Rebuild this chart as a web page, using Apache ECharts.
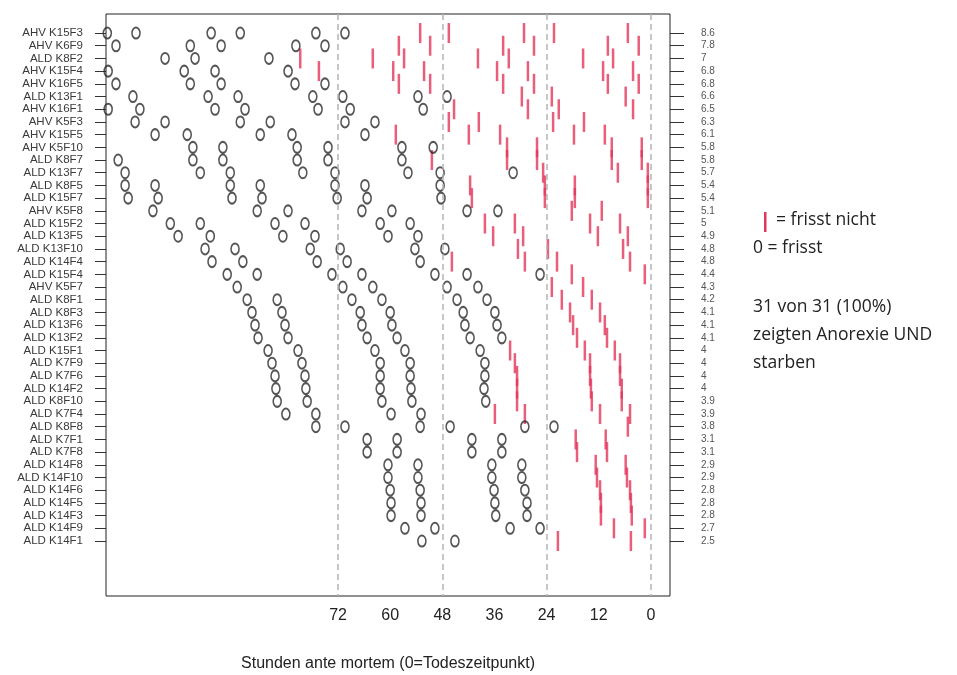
<!DOCTYPE html>
<html>
<head>
<meta charset="utf-8">
<script src="https://cdn.jsdelivr.net/npm/echarts@6/dist/echarts.min.js"></script>
<style>
html,body{margin:0;padding:0;background:#fff}
#chart{width:957px;height:675px}
</style>
</head>
<body>
<div id="chart"></div>
<script>
// Tiere (oben nach unten)
var animals = ['AHV K15F3','AHV K6F9','ALD K8F2','AHV K15F4','AHV K16F5','ALD K13F1','AHV K16F1','AHV K5F3',
  'AHV K15F5','AHV K5F10','ALD K8F7','ALD K13F7','ALD K8F5','ALD K15F7','AHV K5F8','ALD K15F2','ALD K13F5',
  'ALD K13F10','ALD K14F4','ALD K15F4','AHV K5F7','ALD K8F1','ALD K8F3','ALD K13F6','ALD K13F2','ALD K15F1',
  'ALD K7F9','ALD K7F6','ALD K14F2','ALD K8F10','ALD K7F4','ALD K8F8','ALD K7F1','ALD K7F8','ALD K14F8',
  'ALD K14F10','ALD K14F6','ALD K14F5','ALD K14F3','ALD K14F9','ALD K14F1'];
var ratios = ['8.6','7.8','7','6.8','6.8','6.6','6.5','6.3','6.1','5.8','5.8','5.7','5.4','5.4','5.1','5','4.9',
  '4.8','4.8','4.4','4.3','4.2','4.1','4.1','4.1','4','4','4','4','3.9','3.9','3.8','3.1','3.1','2.9','2.9',
  '2.8','2.8','2.8','2.7','2.5'];

// Stunden ante mortem: frisst (0)
var feeds = [
  [125.1,118.5,101.2,94.5,77.1,70.4],
  [123.1,106.0,98.9,81.7,75.0],
  [111.8,104.9,87.9],
  [124.9,107.4,100.3,83.5],
  [123.1,106.0,98.9,81.9,75.0],
  [119.2,101.9,95.0,77.8,70.9,53.6,46.9],
  [124.9,117.6,100.3,93.4,76.6,69.2,52.4],
  [118.7,111.8,94.5,87.6,70.4,63.5],
  [114.1,106.7,89.9,82.6,65.8],
  [105.4,98.5,81.4,74.3,57.3,50.1],
  [122.6,105.4,98.5,81.4,74.3,57.3],
  [121.0,103.7,96.8,80.1,72.7,55.9,48.5,31.7],
  [121.0,114.1,96.8,89.9,72.7,65.8,48.5],
  [120.3,113.4,96.4,89.5,72.2,65.3,48.3],
  [114.6,90.6,83.5,66.5,59.6,42.3,35.2],
  [110.6,103.7,86.5,79.6,62.3,55.4],
  [108.8,101.4,84.7,77.3,60.5,53.6],
  [102.6,95.7,78.4,71.5,54.3,47.4],
  [101.0,93.9,76.8,69.9,53.1],
  [97.5,90.6,73.4,66.5,49.7,42.3,25.5],
  [95.2,70.9,64.0,46.9,39.8],
  [92.9,86.0,68.8,61.9,44.6,37.7],
  [91.8,84.9,66.9,60.0,43.2,35.9],
  [91.1,84.2,66.5,59.6,42.8,35.4],
  [90.4,83.5,65.3,58.4,41.6,34.3],
  [88.1,81.2,63.5,56.6,39.3],
  [87.2,80.3,62.3,55.4,38.2],
  [86.5,79.6,62.3,55.4,38.2],
  [86.3,79.4,62.3,55.2,38.4],
  [86.0,79.1,61.9,55.0,38.0],
  [84.0,77.1,59.8,52.9],
  [77.1,70.4,53.1,46.2,29.0,22.3],
  [65.3,58.4,41.2,34.3],
  [65.3,58.4,41.2,34.3],
  [60.5,53.6,36.6,29.7],
  [60.5,53.6,36.6,29.7],
  [60.0,53.1,36.1,29.0],
  [59.8,52.9,35.9,28.5],
  [59.8,52.9,35.7,28.5],
  [56.6,49.7,32.4,25.5],
  [52.7,45.1]
];

// Stunden ante mortem: frisst nicht (|)
var noFeed = [
  [53.1,46.5,29.2,22.3,5.3],
  [58.0,50.8,34.0,26.9,9.9,2.8],
  [80.7,64.0,56.8,39.8,32.7,15.6,8.7],
  [76.4,59.3,52.2,35.4,28.3,11.0,4.1],
  [58.0,50.8,34.0,26.9,9.9,2.8],
  [29.7,22.8,5.8],
  [45.3,28.3,21.2,4.1],
  [46.5,39.6,22.5,15.4],
  [58.7,41.9,34.7,17.7,10.6],
  [33.1,26.2,9.0,2.1],
  [50.4,33.1,26.2,9.0,2.1],
  [24.8,7.6,0.7],
  [41.6,24.4,17.5,0.7],
  [41.2,24.4,17.5,0.7],
  [18.2,11.3],
  [38.2,31.3,14.0,7.1],
  [36.3,29.4,12.2,5.3],
  [30.6,23.7,6.4],
  [45.8,29.0,21.6,4.8],
  [18.2,1.4],
  [22.8,15.6],
  [20.5,13.6],
  [18.6,11.7],
  [17.9,10.6],
  [17.0,10.1],
  [32.4,15.2,8.3],
  [31.3,14.0,7.1],
  [30.8,14.0,7.1],
  [30.8,13.8,6.7],
  [30.8,13.6,6.7],
  [35.9,29.0,11.7,4.8],
  [5.3],
  [17.3,10.4],
  [17.0,10.1],
  [12.7,5.8],
  [12.4,5.5],
  [11.7,4.8],
  [11.5,4.6],
  [11.5,4.4],
  [8.5,1.4],
  [21.4,4.6]
];

var hourTicks = [72, 60, 48, 36, 24, 12, 0];
var dayLines = [72, 48, 24, 0];

var rows = animals.map(function (a, i) { return i; });
var feedData = [];
var noFeedData = [];
feeds.forEach(function (list, i) {
  list.forEach(function (h) { feedData.push([h, i]); });
});
noFeed.forEach(function (list, i) {
  list.forEach(function (h) { noFeedData.push([h, i]); });
});

var chart = echarts.init(document.getElementById('chart'));
var option = {
  animation: false,
  backgroundColor: '#fff',
  grid: {
    left: 106, right: 287, top: 14, bottom: 79,
    outerBoundsMode: 'none',
    containLabel: false,
    show: true, borderColor: '#222', borderWidth: 1
  },
  xAxis: {
    type: 'value',
    inverse: true,
    min: -4.4,
    max: 125.4,
    axisLine: { show: false, onZero: false },
    axisTick: { show: false },
    splitLine: { show: false },
    axisLabel: {
      customValues: hourTicks,
      fontSize: 16, color: '#222', margin: 12,
      fontFamily: 'Liberation Sans, Arial, sans-serif'
    },
    name: 'Stunden ante mortem (0=Todeszeitpunkt)',
    nameLocation: 'middle',
    nameGap: 60,
    nameTextStyle: { fontSize: 16, color: '#222', fontFamily: 'Liberation Sans, Arial, sans-serif' }
  },
  yAxis: [{
    type: 'value',
    position: 'left',
    inverse: true,
    min: -1.5,
    max: 44.33,
    axisLine: { show: false, onZero: false },
    splitLine: { show: false },
    axisTick: { customValues: rows, length: 11, lineStyle: { color: '#333' } },
    axisLabel: {
      customValues: rows,
      formatter: function (v) { return animals[v]; },
      margin: 23, fontSize: 11.5, color: '#3a3a3a',
      fontFamily: 'Liberation Sans, Arial, sans-serif'
    }
  }, {
    type: 'value',
    position: 'right',
    inverse: true,
    min: -1.5,
    max: 44.33,
    axisLine: { show: false, onZero: false },
    splitLine: { show: false },
    axisTick: { customValues: rows, length: 14, lineStyle: { color: '#333' } },
    axisLabel: {
      customValues: rows,
      formatter: function (v) { return ratios[v]; },
      margin: 31, fontSize: 10, color: '#555',
      fontFamily: 'Liberation Sans, Arial, sans-serif'
    }
  }],
  series: [{
    name: 'frisst',
    type: 'scatter',
    data: feedData,
    symbol: 'circle',
    symbolSize: [8, 11],
    itemStyle: { color: 'rgba(0,0,0,0)', borderColor: '#2b2b2b', borderWidth: 1.8 },
    markLine: {
      silent: true,
      symbol: ['none', 'none'],
      label: { show: false },
      lineStyle: { color: '#b4b4b4', type: [6, 4], width: 1.5 },
      data: dayLines.map(function (v) { return { xAxis: v }; })
    },
    z: 3
  }, {
    name: 'frisst nicht',
    type: 'scatter',
    data: noFeedData,
    symbol: 'rect',
    symbolSize: [2.5, 20],
    itemStyle: { color: '#e2365a' },
    z: 2
  }],
  graphic: [
    { type: 'rect', left: 764, top: 212, shape: { width: 2.5, height: 20 }, style: { fill: '#e2365a' } },
    { type: 'text', left: 776, top: 211, style: { text: '= frisst nicht', fontSize: 17.5, fill: '#222', fontFamily: 'Open Sans, sans-serif' } },
    { type: 'text', left: 753, top: 239, style: { text: '0 = frisst', fontSize: 17.5, fill: '#222', fontFamily: 'Open Sans, sans-serif' } },
    { type: 'text', left: 753, top: 293, style: { text: '31 von 31 (100%)\nzeigten Anorexie UND\nstarben', fontSize: 17.5, lineHeight: 28, fill: '#222', fontFamily: 'Open Sans, sans-serif' } }
  ]
};
chart.setOption(option);
</script>
</body>
</html>
